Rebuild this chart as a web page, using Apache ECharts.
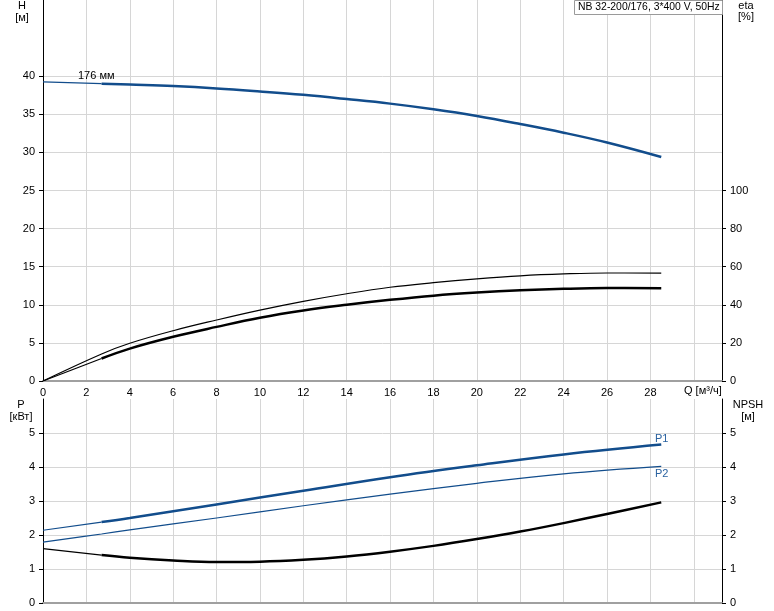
<!DOCTYPE html>
<html><head><meta charset="utf-8">
<script src="https://cdn.jsdelivr.net/npm/echarts@6/dist/echarts.min.js"></script>
<style>html,body{margin:0;padding:0;background:#fff}#c{width:774px;height:611px}</style>
</head><body><div id="c"></div>
<script>
// ---- data ----
const qLabels = [0,2,4,6,8,10,12,14,16,18,20,22,24,26,28];
const hTicks = [0,5,10,15,20,25,30,35,40];
const etaTicks = [0,20,40,60,80,100];
const pTicks = [0,1,2,3,4,5];

const qH   = [0, 2.7, 4, 6, 8, 10, 12, 14, 16, 18, 20, 22, 24, 26, 28.5];
const hVal = [39.25, 39.02, 38.9, 38.7, 38.4, 38.0, 37.55, 37.0, 36.4, 35.66, 34.78, 33.73, 32.59, 31.3, 29.4];

const qEta  = [0, 2.7, 4, 6, 8, 10, 12, 14, 16, 18, 20, 22, 24, 26, 28.5];
const etaTotal = [0, 14.2, 19.8, 26.4, 32, 37.2, 41.8, 45.8, 49.2, 51.6, 53.6, 55.2, 56.2, 56.7, 56.6];
const etaPump  = [0, 11.8, 17, 23.2, 28.4, 33.2, 37, 40, 42.6, 44.8, 46.4, 47.6, 48.4, 48.8, 48.7];

const qP  = [0, 2.7, 4, 8, 12, 16, 20, 24, 28.5];
const p1  = [2.14, 2.38, 2.5, 2.9, 3.3, 3.7, 4.05, 4.37, 4.66];
const p2  = [1.79, 2.03, 2.15, 2.5, 2.86, 3.2, 3.52, 3.8, 4.02];

const qN  = [0, 2.7, 4, 6, 8, 10, 12, 14, 16, 18, 20, 22, 24, 26, 28.5];
const npsh = [1.6, 1.41, 1.33, 1.25, 1.205, 1.215, 1.27, 1.37, 1.51, 1.68, 1.88, 2.1, 2.35, 2.62, 2.96];

const qMin = 2.7;

function pts(q, v, lo, hi) {
  const out = [];
  for (let i = 0; i < q.length; i++) if (q[i] >= lo && q[i] <= hi) out.push([q[i], v[i]]);
  return out;
}

const BLUE = '#124d8c';
const FONT = '"Liberation Sans", Arial, sans-serif';
const txt = {color: '#000', fontSize: 11, fontFamily: FONT};

function line(name, data, xi, yi, color, width) {
  return {name, type: 'line', xAxisIndex: xi, yAxisIndex: yi, data, symbol: 'none',
    smooth: 0.4, silent: true,
    lineStyle: {color, width}, z: 5};
}

const xAxisBase = (gi, showLabel) => ({
  type: 'value', gridIndex: gi, min: 0, max: 31.3, interval: 2,
  axisLine: {show: true, onZero: false, lineStyle: {color: '#a0a0a0', width: 2}},
  axisTick: {show: false},
  axisLabel: {show: showLabel, customValues: qLabels, margin: 6, ...txt},
  splitLine: {show: true, lineStyle: {color: '#d6d6d6', width: 1}}
});

const yAxisBase = (gi, pos, max, interval, ticks) => ({
  type: 'value', gridIndex: gi, position: pos, min: 0, max, interval,
  axisLine: {show: true, lineStyle: {color: '#000', width: 1}},
  axisTick: {show: true, length: 4, inside: false, customValues: ticks, lineStyle: {color: '#000'}},
  axisLabel: {show: true, customValues: ticks, margin: 8, ...txt},
  splitLine: {show: pos === 'left', lineStyle: {color: '#d6d6d6', width: 1}}
});

const chart = echarts.init(document.getElementById('c'), null, {renderer: 'canvas'});
chart.setOption({
  animation: false,
  backgroundColor: '#fff',
  grid: [
    {left: 43, top: 0, width: 679, height: 381},
    {left: 43, top: 399, width: 679, height: 204}
  ],
  xAxis: [xAxisBase(0, true), xAxisBase(1, false)],
  yAxis: [
    yAxisBase(0, 'left', 50, 5, hTicks),
    yAxisBase(0, 'right', 200, 20, etaTicks),
    yAxisBase(1, 'left', 6, 1, pTicks),
    yAxisBase(1, 'right', 6, 1, pTicks)
  ],
  series: [
    line('H thin', pts(qH, hVal, 0, qMin), 0, 0, BLUE, 1.2),
    line('H', pts(qH, hVal, qMin, 99), 0, 0, BLUE, 2.5),
    line('eta total', pts(qEta, etaTotal, 0, 99), 0, 1, '#000', 1.2),
    line('eta thin', pts(qEta, etaPump, 0, qMin), 0, 1, '#000', 1.2),
    line('eta', pts(qEta, etaPump, qMin, 99), 0, 1, '#000', 2.5),
    line('P1 thin', pts(qP, p1, 0, qMin), 1, 2, BLUE, 1.2),
    line('P1', pts(qP, p1, qMin, 99), 1, 2, BLUE, 2.5),
    line('P2', pts(qP, p2, 0, 99), 1, 2, BLUE, 1.2),
    line('NPSH thin', pts(qN, npsh, 0, qMin), 1, 3, '#000', 1.2),
    line('NPSH', pts(qN, npsh, qMin, 99), 1, 3, '#000', 2.5)
  ],
  graphic: [
    {type: 'rect', shape: {x: 574.5, y: 0.5, width: 148, height: 14}, style: {fill: '#fff', stroke: '#9a9a9a', lineWidth: 1}, z: 10},
    {type: 'text', x: 578, y: 2, style: {text: 'NB 32-200/176, 3*400 V, 50Hz', fill: '#000', font: '10.4px ' + FONT}, z: 11},
    {type: 'text', x: 22, y: 6, style: {text: 'H', fill: '#000', font: '11px ' + FONT, textAlign: 'center', textVerticalAlign: 'middle'}},
    {type: 'text', x: 22, y: 18, style: {text: '[м]', fill: '#000', font: '11px ' + FONT, textAlign: 'center', textVerticalAlign: 'middle'}},
    {type: 'text', x: 746, y: 6, style: {text: 'eta', fill: '#000', font: '11px ' + FONT, textAlign: 'center', textVerticalAlign: 'middle'}},
    {type: 'text', x: 746, y: 17, style: {text: '[%]', fill: '#000', font: '11px ' + FONT, textAlign: 'center', textVerticalAlign: 'middle'}},
    {type: 'text', x: 21, y: 405, style: {text: 'P', fill: '#000', font: '11px ' + FONT, textAlign: 'center', textVerticalAlign: 'middle'}},
    {type: 'text', x: 21, y: 417, style: {text: '[кВт]', fill: '#000', font: '11px ' + FONT, textAlign: 'center', textVerticalAlign: 'middle'}},
    {type: 'text', x: 748, y: 405, style: {text: 'NPSH', fill: '#000', font: '11px ' + FONT, textAlign: 'center', textVerticalAlign: 'middle'}},
    {type: 'text', x: 748, y: 417, style: {text: '[м]', fill: '#000', font: '11px ' + FONT, textAlign: 'center', textVerticalAlign: 'middle'}},
    {type: 'text', x: 684, y: 391, style: {text: 'Q [м³/ч]', fill: '#000', font: '11px ' + FONT, textVerticalAlign: 'middle'}},
    {type: 'text', x: 78, y: 76, style: {text: '176 мм', fill: '#000', font: '11px ' + FONT, textVerticalAlign: 'middle'}, z: 10},
    {type: 'text', x: 655, y: 439, style: {text: 'P1', fill: '#2a62a0', font: '11px ' + FONT, textVerticalAlign: 'middle'}, z: 10},
    {type: 'text', x: 655, y: 474, style: {text: 'P2', fill: '#2a62a0', font: '11px ' + FONT, textVerticalAlign: 'middle'}, z: 10}
  ]
});
</script>
</body></html>
